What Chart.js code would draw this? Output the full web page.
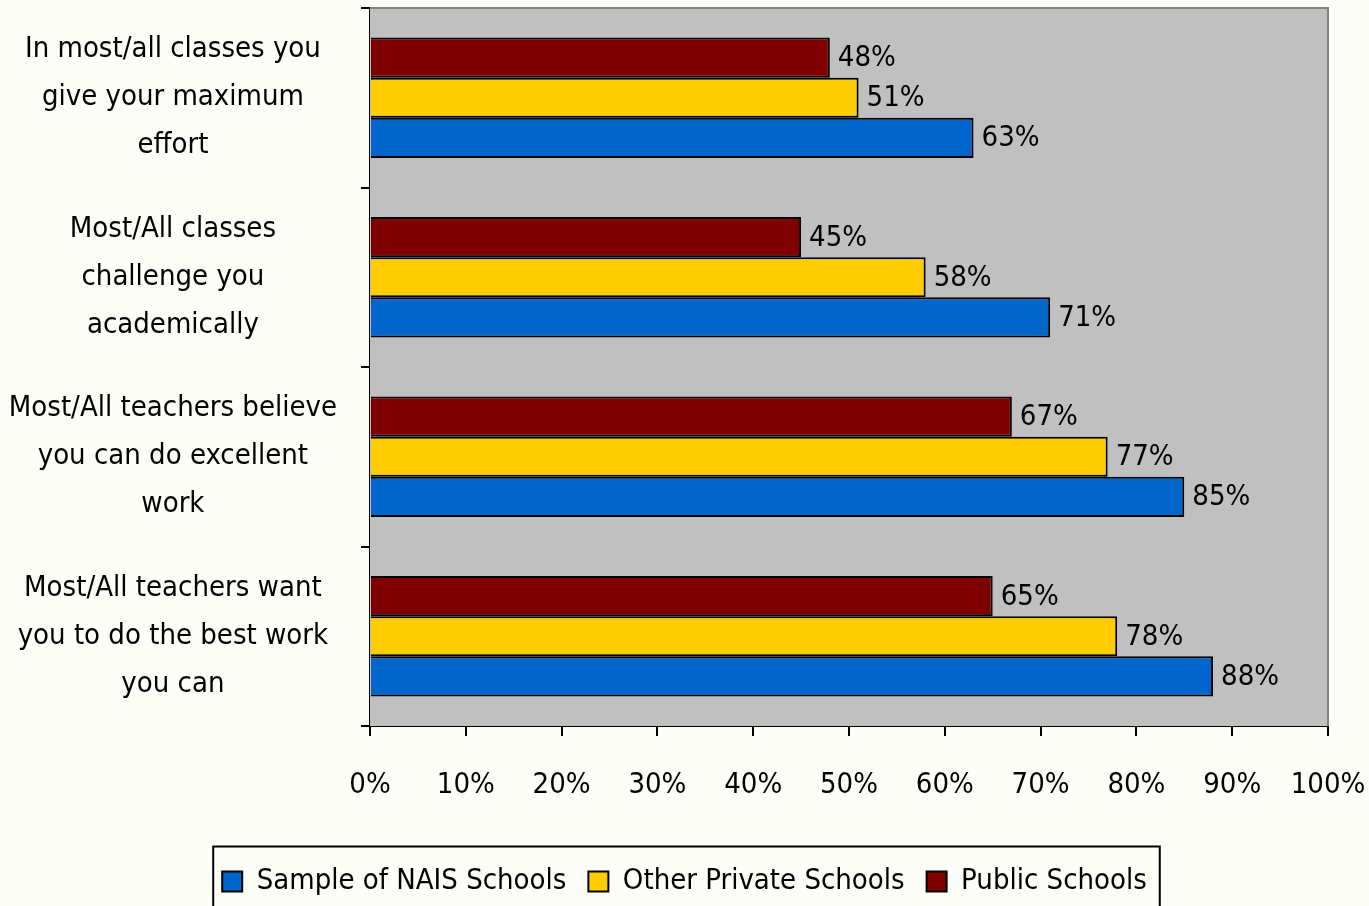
<!DOCTYPE html>
<html>
<head>
<meta charset="utf-8">
<script src="https://cdn.jsdelivr.net/npm/chart.js@4/dist/chart.umd.min.js"></script>
<style>
    html, body { margin: 0; padding: 0; background: #fdfdf8; }
    #wrap { width: 1369px; height: 906px; position: relative; }
</style>
</head>
<body>
<div id="wrap"><canvas id="chart"></canvas></div>
<script>
// Survey items, top to bottom
const categories = [
    ['In most/all classes you', 'give your maximum', 'effort'],
    ['Most/All classes', 'challenge you', 'academically'],
    ['Most/All teachers believe', 'you can do excellent', 'work'],
    ['Most/All teachers want', 'you to do the best work', 'you can']
];
const publicSchools = [48, 45, 67, 65];
const otherPrivate = [51, 58, 77, 78];
const naisSample = [63, 71, 85, 88];
const xTicks = [0, 10, 20, 30, 40, 50, 60, 70, 80, 90, 100];

const FONT = "'Liberation Sans Narrow', 'Arial Narrow', 'DejaVu Sans Condensed', sans-serif";
const SIZE = 29;

// Gray plot background plus gray top/right frame
const plotFrame = {
    id: 'plotFrame',
    beforeDatasetsDraw(chart) {
        const { ctx, chartArea: a } = chart;
        ctx.save();
        ctx.fillStyle = '#c0c0c0';
        ctx.fillRect(a.left, a.top, a.right - a.left, a.bottom - a.top);
        ctx.strokeStyle = '#808080';
        ctx.lineWidth = 2;
        ctx.beginPath();
        ctx.moveTo(a.left, a.top);
        ctx.lineTo(a.right, a.top);
        ctx.lineTo(a.right, a.bottom);
        ctx.stroke();
        ctx.restore();
    }
};

// Value labels right of each bar
const valueLabels = {
    id: 'valueLabels',
    afterDatasetsDraw(chart) {
        const ctx = chart.ctx;
        ctx.save();
        ctx.font = SIZE + 'px ' + FONT;
        ctx.fillStyle = '#000';
        ctx.textAlign = 'left';
        ctx.textBaseline = 'middle';
        chart.data.datasets.forEach((ds, i) => {
            chart.getDatasetMeta(i).data.forEach((bar, j) => {
                ctx.fillText(ds.data[j] + '%', bar.x + 8, bar.y + 1);
            });
        });
        ctx.restore();
    }
};

// Box around the legend
const legendBox = {
    id: 'legendBox',
    afterDraw(chart) {
        const boxes = chart.legend.legendHitBoxes;
        if (!boxes || !boxes.length) return;
        const left = Math.min(...boxes.map(b => b.left));
        const right = Math.max(...boxes.map(b => b.left + b.width));
        const mid = boxes[0].top + boxes[0].height / 2;
        const ctx = chart.ctx;
        ctx.save();
        ctx.strokeStyle = '#000';
        ctx.lineWidth = 2;
        ctx.strokeRect(left - 9, mid - 35, right - left + 22, 120);
        ctx.restore();
    }
};

new Chart(document.getElementById('chart'), {
    type: 'bar',
    data: {
        labels: categories,
        datasets: [
            { label: 'Public Schools', data: publicSchools, backgroundColor: '#800000' },
            { label: 'Other Private Schools', data: otherPrivate, backgroundColor: '#ffcc00' },
            { label: 'Sample of NAIS Schools', data: naisSample, backgroundColor: '#0066cc' }
        ].map(d => Object.assign(d, {
            borderColor: '#000',
            borderWidth: 2,
            categoryPercentage: 0.67,
            barPercentage: 1
        }))
    },
    options: {
        indexAxis: 'y',
        responsive: true,
        maintainAspectRatio: false,
        animation: false,
        layout: { padding: { top: 8, right: 0, left: 0, bottom: 0 } },
        plugins: {
            tooltip: { enabled: false },
            legend: {
                position: 'bottom',
                reverse: true,
                labels: {
                    font: { family: FONT, size: SIZE },
                    color: '#000',
                    boxWidth: 20,
                    boxHeight: 20,
                    padding: 22
                }
            }
        },
        scales: {
            x: {
                min: 0,
                max: 100,
                afterBuildTicks(scale) {
                    scale.ticks = xTicks.map(v => ({ value: v }));
                },
                ticks: {
                    callback: v => v + '%',
                    color: '#000',
                    font: { family: FONT, size: SIZE },
                    padding: 32,
                    maxRotation: 0
                },
                grid: {
                    drawOnChartArea: false,
                    color: '#000',
                    lineWidth: 2,
                    tickLength: 10
                },
                border: { color: '#000', width: 2 },
                afterFit(scale) {
                    scale.height = 119;
                    scale.paddingLeft = 0;
                    scale.paddingRight = 41;
                }
            },
            y: {
                ticks: {
                    color: '#000',
                    font: { family: FONT, size: SIZE, lineHeight: 1.65 },
                    crossAlign: 'center',
                    padding: 24
                },
                grid: {
                    drawOnChartArea: false,
                    color: '#000',
                    lineWidth: 2,
                    tickLength: 9
                },
                border: { color: '#000', width: 2 },
                afterFit(scale) {
                    scale.width = 370;
                    scale.paddingTop = 0;
                    scale.paddingBottom = 0;
                }
            }
        }
    },
    plugins: [plotFrame, valueLabels, legendBox]
});
</script>
</body>
</html>
